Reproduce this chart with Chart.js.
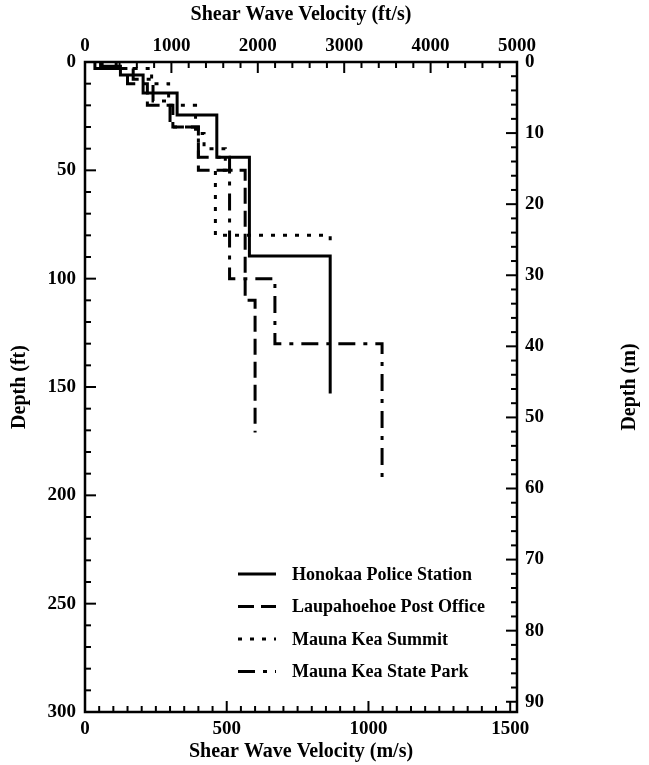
<!DOCTYPE html>
<html>
<head>
<meta charset="utf-8">
<script src="https://cdn.jsdelivr.net/npm/chart.js@4.4.0/dist/chart.umd.min.js"></script>
<style>
  html, body { margin: 0; padding: 0; background: #fff; }
</style>
</head>
<body>
<canvas id="profileChart" width="649" height="765"></canvas>
<script>
// unit conversion
var FT_PER_M = 3.2808;

// layer boundaries (ft) and shear wave velocity of each layer (m/s)
var seriesNames = ['Honokaa Police Station', 'Laupahoehoe Post Office', 'Mauna Kea Summit', 'Mauna Kea State Park'];

var honokaaDepth = [0, 2, 6, 14.3, 24.5, 44, 89.5, 153];
var honokaaVs = [55, 125, 205, 325, 465, 580, 865];

var laupahoehoeDepth = [0, 3, 10, 20, 30, 50, 110, 171];
var laupahoehoeVs = [35, 150, 220, 310, 400, 565, 600];

var summitDepth = [0, 3, 10, 20, 33, 40, 50, 80, 85];
var summitVs = [110, 235, 295, 390, 420, 495, 460, 865];

var stateParkDepth = [0, 3, 8, 18, 30, 44, 100, 130, 192];
var stateParkVs = [60, 170, 240, 300, 400, 510, 670, 1048];

// tick labels
var msTicks = [0, 500, 1000, 1500];
var ftsTicks = [0, 1000, 2000, 3000, 4000, 5000];
var ftTicks = [0, 50, 100, 150, 200, 250, 300];
var mTicks = [0, 10, 20, 30, 40, 50, 60, 70, 80, 90];

var FONT = '"Liberation Serif", "Times New Roman", serif';

// turn layers into a step line: down each layer, across at each boundary
function profile(depths, vs) {
  var pts = [];
  for (var i = 0; i < vs.length; i++) {
    pts.push({x: vs[i], y: depths[i]});
    pts.push({x: vs[i], y: depths[i + 1]});
  }
  return pts;
}

function lineSet(label, pts, dash) {
  return {
    label: label,
    data: pts,
    showLine: true,
    fill: false,
    borderColor: '#000',
    backgroundColor: '#000',
    borderWidth: 3,
    borderDash: dash,
    borderCapStyle: 'butt',
    pointRadius: 0,
    pointHoverRadius: 0
  };
}

function fixTicks(list) {
  return function (scale) {
    scale.ticks = list.map(function (v) { return {value: v}; });
  };
}

function plain(v) { return String(v); }

var tickFont = {family: FONT, size: 19, weight: 'bold'};
var titleFont = {family: FONT, size: 20, weight: 'bold'};

// frame with inward major/minor ticks, legend and right title
var framePlugin = {
  id: 'framePlugin',
  afterDraw: function (chart) {
    var ctx = chart.ctx;
    var a = chart.chartArea;
    var s = chart.scales;
    ctx.save();
    ctx.strokeStyle = '#000';
    ctx.lineWidth = 2.5;
    ctx.setLineDash([]);
    ctx.strokeRect(a.left, a.top, a.right - a.left, a.bottom - a.top);

    ctx.lineWidth = 2;
    var marks = [
      [s.x, 50, 10, 30, 'bottom'],
      [s.x2, 200, 5, 25, 'top'],
      [s.y, 10, 5, 30, 'left'],
      [s.y2, 2, 5, 45, 'right']
    ];
    marks.forEach(function (m) {
      var scale = m[0], step = m[1], every = m[2], count = m[3], side = m[4];
      for (var i = 0; i <= count; i++) {
        var p = scale.getPixelForValue(i * step);
        var len = (i % every === 0) ? 11 : 6;
        ctx.beginPath();
        if (side === 'bottom') { ctx.moveTo(p, a.bottom); ctx.lineTo(p, a.bottom - len); }
        if (side === 'top') { ctx.moveTo(p, a.top); ctx.lineTo(p, a.top + len); }
        if (side === 'left') { ctx.moveTo(a.left, p); ctx.lineTo(a.left + len, p); }
        if (side === 'right') { ctx.moveTo(a.right, p); ctx.lineTo(a.right - len, p); }
        ctx.stroke();
      }
    });

    // legend
    ctx.font = 'bold 18px ' + FONT;
    ctx.fillStyle = '#000';
    ctx.textBaseline = 'middle';
    ctx.textAlign = 'left';
    ctx.lineWidth = 3;
    chart.data.datasets.forEach(function (ds, i) {
      var y = 574 + i * 32.5;
      ctx.setLineDash(ds.borderDash || []);
      ctx.beginPath();
      ctx.moveTo(238, y);
      ctx.lineTo(276, y);
      ctx.stroke();
      ctx.setLineDash([]);
      ctx.fillText(ds.label, 292, y + 1);
    });

    // right axis title, reading upward like the left one
    ctx.font = 'bold 20px ' + FONT;
    ctx.textAlign = 'center';
    ctx.translate(630, (a.top + a.bottom) / 2);
    ctx.rotate(-Math.PI / 2);
    ctx.fillText('Depth (m)', 0, 0);
    ctx.restore();
  }
};

var ctx = document.getElementById('profileChart').getContext('2d');
var chart = new Chart(ctx, {
  type: 'scatter',
  data: {
    datasets: [
      lineSet(seriesNames[0], profile(honokaaDepth, honokaaVs), []),
      lineSet(seriesNames[1], profile(laupahoehoeDepth, laupahoehoeVs), [16, 7]),
      lineSet(seriesNames[2], profile(summitDepth, summitVs), [4, 8]),
      lineSet(seriesNames[3], profile(stateParkDepth, stateParkVs), [17, 8, 4, 8])
    ]
  },
  options: {
    responsive: false,
    animation: false,
    layout: {padding: 0},
    plugins: {legend: {display: false}, tooltip: {enabled: false}},
    scales: {
      x: {
        type: 'linear', position: 'bottom', min: 0, max: 5000 / FT_PER_M,
        afterBuildTicks: fixTicks(msTicks),
        afterFit: function (s) { s.height = 53; },
        grid: {display: false, drawTicks: false}, border: {display: false},
        ticks: {font: tickFont, color: '#000', padding: 6, maxRotation: 0, autoSkip: false, callback: plain},
        title: {display: true, text: 'Shear Wave Velocity (m/s)', font: titleFont, color: '#000', padding: {top: 0, bottom: 1}}
      },
      x2: {
        type: 'linear', position: 'top', min: 0, max: 5000,
        afterBuildTicks: fixTicks(ftsTicks),
        afterFit: function (s) { s.height = 62; },
        grid: {display: false, drawTicks: false}, border: {display: false},
        ticks: {font: tickFont, color: '#000', padding: 5, maxRotation: 0, autoSkip: false, callback: plain},
        title: {display: true, text: 'Shear Wave Velocity (ft/s)', font: titleFont, color: '#000', padding: {top: 3, bottom: 0}}
      },
      y: {
        type: 'linear', position: 'left', reverse: true, min: 0, max: 300,
        afterBuildTicks: fixTicks(ftTicks),
        afterFit: function (s) { s.width = 85; },
        grid: {display: false, drawTicks: false}, border: {display: false},
        ticks: {font: tickFont, color: '#000', padding: 9, autoSkip: false, callback: plain},
        title: {display: true, text: 'Depth (ft)', font: titleFont, color: '#000', padding: {top: 8, bottom: 0}}
      },
      y2: {
        type: 'linear', position: 'right', reverse: true, min: 0, max: 300 / FT_PER_M,
        afterBuildTicks: fixTicks(mTicks),
        afterFit: function (s) { s.width = 132; },
        grid: {display: false, drawTicks: false}, border: {display: false},
        ticks: {font: tickFont, color: '#000', padding: 8, autoSkip: false, callback: plain}
      }
    }
  },
  plugins: [framePlugin]
});
</script>
</body>
</html>
